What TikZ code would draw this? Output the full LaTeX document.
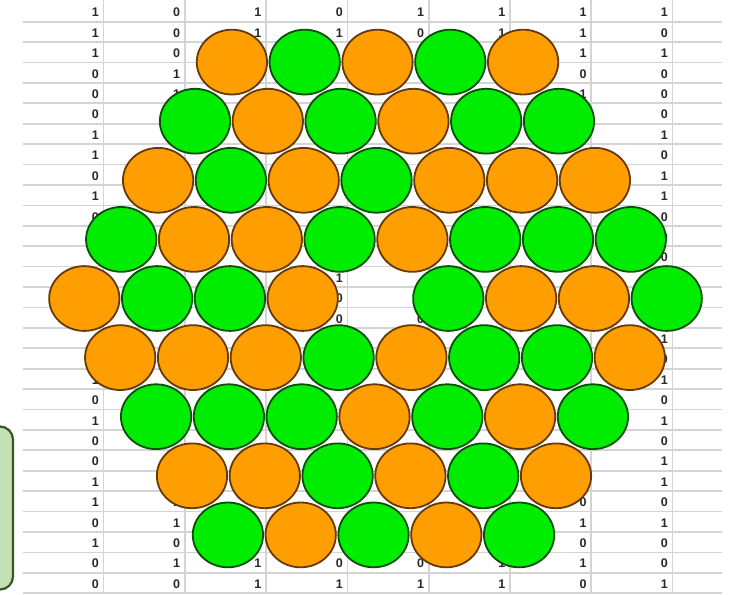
\documentclass[tikz,border=0pt]{standalone}
\usepackage{fontspec}
\setmainfont{Liberation Sans}
\usetikzlibrary{shapes.geometric}
\definecolor{gridc}{RGB}{212,212,212}
\definecolor{numc}{RGB}{40,40,40}
\definecolor{orfill}{RGB}{255,158,0}
\definecolor{ordraw}{RGB}{100,58,10}
\definecolor{grfill}{RGB}{0,236,0}
\definecolor{grdraw}{RGB}{12,78,12}
\definecolor{notefill}{RGB}{197,224,180}
\definecolor{notedraw}{RGB}{56,87,35}
\tikzset{
  gridline/.style={draw=gridc, line width=1.7pt},
  num/.style={anchor=east, inner sep=0pt, font=\fontsize{12.5}{14}\selectfont\bfseries, text=numc},
  ball/.style={ellipse, minimum width=70.3pt, minimum height=64.8pt, inner sep=0pt, line width=1.8pt},
  Oball/.style={ball, draw=ordraw, fill=orfill},
  Gball/.style={ball, draw=grdraw, fill=grfill},
  Hole/.style={ball, draw=none, fill=none},
  notebox/.style={draw=notedraw, fill=notefill, line width=2.2pt, rounded corners=13pt, minimum width=34pt, minimum height=163pt, inner sep=0pt}
}
\begin{document}
\begin{tikzpicture}[x=1pt,y=-1pt]
\useasboundingbox (0,0) rectangle (735,594);
\fill[white] (0,0) rectangle (735,594);
% spreadsheet grid
\foreach \k in {0,...,28} \draw[gridline] (23,{21.7+\k*20.41}) -- (722,{21.7+\k*20.41});
\foreach \j in {0,...,7} \draw[gridline] ({103.5+\j*81.3},0) -- ({103.5+\j*81.3},594);
% visible cell values
\foreach \r/\v in {0/1,1/1,2/1,3/0,4/0,5/0,6/1,7/1,8/0,9/1,10/0,18/1,19/0,20/1,21/0,22/0,23/1,24/1,25/0,26/1,27/0,28/0}
  \node[num] (cA\r) at (99,{12.6+\r*20.41}) {\v};
\foreach \r/\v in {0/0,1/0,2/0,3/1,4/1,24/1,25/1,26/0,27/1,28/0}
  \node[num] (cB\r) at ({99+81.3},{12.6+\r*20.41}) {\v};
\foreach \r/\v in {0/1,1/1,27/1,28/1}
  \node[num] (cC\r) at ({99+2*81.3},{12.6+\r*20.41}) {\v};
\foreach \r/\v in {0/0,1/1,13/1,14/0,15/0,27/0,28/1}
  \node[num] (cD\r) at ({99+3*81.3},{12.6+\r*20.41}) {\v};
\foreach \r/\v in {0/1,1/0,15/0,27/0,28/1}
  \node[num] (cE\r) at ({99+4*81.3},{12.6+\r*20.41}) {\v};
\foreach \r/\v in {0/1,1/1,27/1,28/1}
  \node[num] (cF\r) at ({99+5*81.3},{12.6+\r*20.41}) {\v};
\foreach \r/\v in {0/1,1/1,2/1,3/0,4/1,24/0,25/1,26/0,27/1,28/0}
  \node[num] (cG\r) at ({99+6*81.3},{12.6+\r*20.41}) {\v};
\foreach \r/\v in {0/1,1/0,2/1,3/0,4/0,5/0,6/1,7/0,8/1,9/1,10/0,11/0,12/0,16/1,17/0,18/1,19/0,20/1,21/0,22/1,23/1,24/0,25/1,26/0,27/0,28/1}
  \node[num] (cH\r) at ({99+7*81.3},{12.6+\r*20.41}) {\v};
% hexagonal arrangement of balls
\foreach \r/\cols in {
  0/{Oball,Gball,Oball,Gball,Oball},
  1/{Gball,Oball,Gball,Oball,Gball,Gball},
  2/{Oball,Gball,Oball,Gball,Oball,Oball,Oball},
  3/{Gball,Oball,Oball,Gball,Oball,Gball,Gball,Gball},
  4/{Oball,Gball,Gball,Oball,Hole,Gball,Oball,Oball,Gball},
  5/{Oball,Oball,Oball,Gball,Oball,Gball,Gball,Oball},
  6/{Gball,Gball,Gball,Oball,Gball,Oball,Gball},
  7/{Oball,Oball,Gball,Oball,Gball,Oball},
  8/{Gball,Oball,Gball,Oball,Gball}} {
  \pgfmathsetmacro\nn{9-abs(\r-4)}
  \foreach \cc [count=\k from 0] in \cols {
    \node[\cc] (b-\r-\k) at ({375.5-(\nn-1)/2*72.8+\k*72.8-(\r-4)*0.5},{298.5+(\r-4)*59.1}) {};
  }
}
% partial note box at left
\node[notebox] (note) at (-4,508) {};
\end{tikzpicture}
\end{document}
